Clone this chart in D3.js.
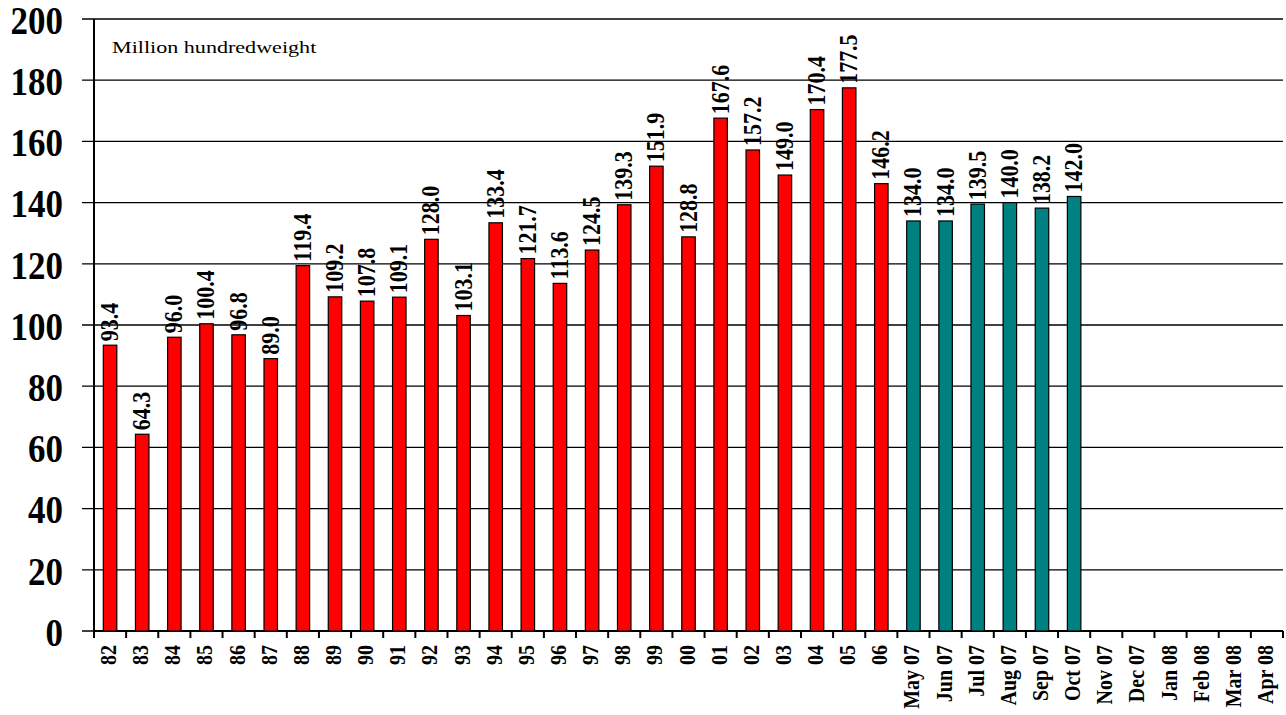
<!DOCTYPE html>
<html>
<head>
<meta charset="utf-8">
<script src="https://cdn.jsdelivr.net/npm/d3@7"></script>
<style>
  body { margin: 0; background: #fff; }
  text { font-family: "Liberation Serif", "Times New Roman", serif; }
</style>
</head>
<body>
<div id="chart"></div>
<script>
// categories along the bottom
var categories = ["82","83","84","85","86","87","88","89","90","91","92","93","94","95","96","97","98","99","00","01","02","03","04","05","06",
  "May 07","Jun 07","Jul 07","Aug 07","Sep 07","Oct 07","Nov 07","Dec 07","Jan 08","Feb 08","Mar 08","Apr 08"];
// annual values (red)
var annualValues = [93.4,64.3,96.0,100.4,96.8,89.0,119.4,109.2,107.8,109.1,128.0,103.1,133.4,121.7,113.6,124.5,139.3,151.9,128.8,167.6,157.2,149.0,170.4,177.5,146.2];
// monthly estimates (teal), null = not yet
var monthlyValues = [134.0,134.0,139.5,140.0,138.2,142.0,null,null,null,null,null,null];
var yTicks = [0,20,40,60,80,100,120,140,160,180,200];

var W = 1286, H = 715;
var margin = {top: 19, right: 3, bottom: 84, left: 94},
    width = W - margin.left - margin.right,
    height = H - margin.top - margin.bottom;

var data = [];
annualValues.forEach(function(v, i){ data.push({cat: categories[i], value: v, kind: "annual"}); });
monthlyValues.forEach(function(v, i){ data.push({cat: categories[annualValues.length + i], value: v, kind: "month"}); });

var svg = d3.select("#chart").append("svg")
    .attr("width", W).attr("height", H)
  .append("g")
    .attr("transform", "translate(" + margin.left + "," + margin.top + ")");

var x = d3.scaleBand().domain(categories).range([0, width]).paddingInner(0.58).paddingOuter(0.29);
var y = d3.scaleLinear().domain([0, 200]).range([height, 0]);

// gridlines
svg.append("g").selectAll("line").data(yTicks).join("line")
    .attr("x1", -12).attr("x2", width)
    .attr("y1", function(d){ return y(d); }).attr("y2", function(d){ return y(d); })
    .attr("stroke", "#000").attr("stroke-width", 1.3);

// y labels
svg.append("g").selectAll("text").data(yTicks).join("text")
    .attr("transform", function(d){ return "translate(-31," + (y(d) + 1) + ") scale(1,1.12)"; })
    .attr("dy", "0.35em")
    .attr("text-anchor", "end")
    .attr("font-size", 35).attr("font-weight", "bold")
    .text(function(d){ return d; });

// y axis line
svg.append("line").attr("x1", 0).attr("x2", 0).attr("y1", 0).attr("y2", height)
    .attr("stroke", "#000").attr("stroke-width", 2);

// x axis tick marks at category boundaries
var step = x.step();
svg.append("g").selectAll("line").data(d3.range(categories.length + 1)).join("line")
    .attr("x1", function(i){ return i * step; }).attr("x2", function(i){ return i * step; })
    .attr("y1", height).attr("y2", height + 7)
    .attr("stroke", "#000").attr("stroke-width", 2);
svg.append("line").attr("x1", 0).attr("x2", width).attr("y1", height).attr("y2", height)
    .attr("stroke", "#000").attr("stroke-width", 2);

// x labels
svg.append("g").selectAll("text").data(categories).join("text")
    .attr("transform", function(d){ return "translate(" + (x(d) + x.bandwidth() / 2 + 6) + "," + (height + 14) + ") rotate(-90) scale(1,1.12)"; })
    .attr("text-anchor", "end")
    .attr("font-size", 20).attr("font-weight", "bold")
    .text(function(d){ return d; });

var bars = data.filter(function(d){ return d.value != null; });

svg.append("g").selectAll("rect").data(bars).join("rect")
    .attr("x", function(d){ return x(d.cat); })
    .attr("y", function(d){ return y(d.value); })
    .attr("width", x.bandwidth())
    .attr("height", function(d){ return height - y(d.value); })
    .attr("fill", function(d){ return d.kind === "annual" ? "#ff0000" : "#008080"; })
    .attr("stroke", "#000").attr("stroke-width", 1.2);

// value labels
svg.append("g").selectAll("text").data(bars).join("text")
    .attr("transform", function(d){ return "translate(" + (x(d.cat) + x.bandwidth() / 2 + 8) + "," + (y(d.value) - 4) + ") rotate(-90) scale(1,1.15)"; })
    .attr("text-anchor", "start")
    .attr("font-size", 22).attr("font-weight", "bold")
    .text(function(d){ return d.value.toFixed(1); });

svg.append("text")
    .attr("transform", "translate(18,34) scale(1.3,1)")
    .attr("font-size", 17)
    .text("Million hundredweight");
</script>
</body>
</html>
